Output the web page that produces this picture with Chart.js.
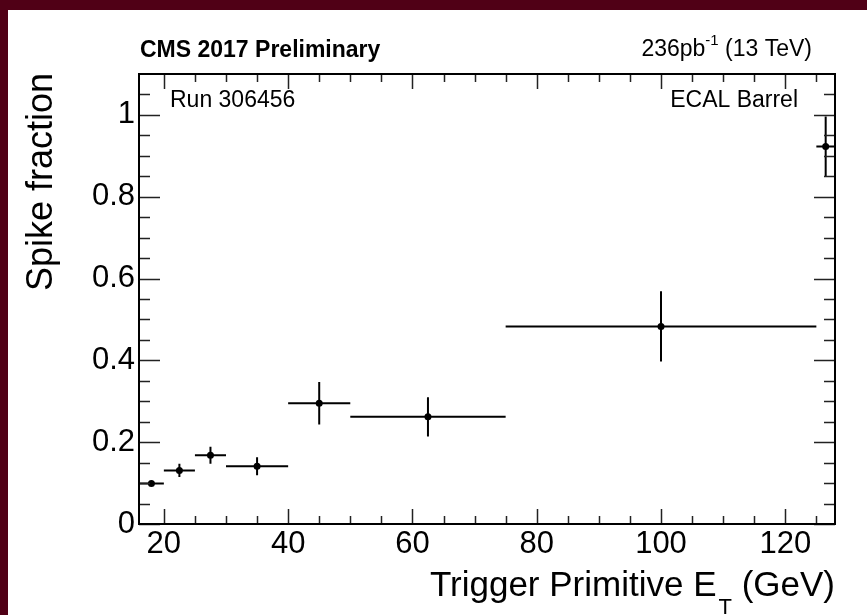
<!DOCTYPE html>
<html>
<head>
<meta charset="utf-8">
<script src="https://cdn.jsdelivr.net/npm/chart.js@4.4.1/dist/chart.umd.min.js"></script>
<style>
  html, body { margin: 0; padding: 0; background: #ffffff; }
  canvas { display: block; }
</style>
</head>
<body>
<canvas id="c" width="867" height="615"></canvas>
<script>
// ---- data ----
const binLow   = [16, 20, 25, 30, 40, 50, 75, 125];
const binHigh  = [20, 25, 30, 40, 50, 75, 125, 128];
const binCenter = [18, 22.5, 27.5, 35, 45, 62.5, 100, 126.5];
const spikeFraction = [0.099, 0.131, 0.168, 0.141, 0.295, 0.262, 0.483, 0.923];
const spikeFractionErr = [0.004, 0.016, 0.021, 0.022, 0.052, 0.048, 0.086, 0.073];

const xMajorTicks = [20, 40, 60, 80, 100, 120];
const xMinorTicks = [25, 30, 35, 45, 50, 55, 65, 70, 75, 85, 90, 95, 105, 110, 115, 125];
const yMajorTicks = [0, 0.2, 0.4, 0.6, 0.8, 1.0];
const yMinorTicks = [0.05, 0.1, 0.15, 0.25, 0.3, 0.35, 0.45, 0.5, 0.55, 0.65, 0.7, 0.75, 0.85, 0.9, 0.95, 1.05];
const xTickLabels = ['20', '40', '60', '80', '100', '120'];
const yTickLabels = ['0', '0.2', '0.4', '0.6', '0.8', '1'];

const FONT = '"Liberation Sans", Arial, Helvetica, sans-serif';

const decorPlugin = {
  id: 'decor',
  beforeDraw(chart) {
    const ctx = chart.ctx;
    ctx.save();
    ctx.fillStyle = '#ffffff';
    ctx.fillRect(0, 0, chart.width, chart.height);
    ctx.fillStyle = '#500016';
    ctx.fillRect(0, 0, chart.width, 10);
    ctx.fillRect(0, 0, 8, chart.height);
    ctx.restore();
  },
  beforeDatasetsDraw(chart) {
    const ctx = chart.ctx;
    const xs = chart.scales.x, ys = chart.scales.y;
    const a = chart.chartArea;
    ctx.save();
    ctx.beginPath();
    ctx.rect(a.left, a.top, a.right - a.left, a.bottom - a.top);
    ctx.clip();
    ctx.strokeStyle = '#000';
    ctx.lineWidth = 2;
    for (let i = 0; i < binCenter.length; i++) {
      const py = ys.getPixelForValue(spikeFraction[i]);
      const px = xs.getPixelForValue(binCenter[i]);
      ctx.beginPath();
      ctx.moveTo(xs.getPixelForValue(binLow[i]), py);
      ctx.lineTo(xs.getPixelForValue(binHigh[i]), py);
      ctx.moveTo(px, ys.getPixelForValue(spikeFraction[i] - spikeFractionErr[i]));
      ctx.lineTo(px, ys.getPixelForValue(spikeFraction[i] + spikeFractionErr[i]));
      ctx.stroke();
    }
    ctx.restore();
  },
  afterDraw(chart) {
    const ctx = chart.ctx;
    const xs = chart.scales.x, ys = chart.scales.y;
    const a = chart.chartArea;
    ctx.save();
    // ticks
    ctx.strokeStyle = '#222';
    ctx.lineWidth = 1.5;
    ctx.beginPath();
    const xt = (v, len) => {
      const p = Math.round(xs.getPixelForValue(v)) + 0.5;
      ctx.moveTo(p, a.bottom); ctx.lineTo(p, a.bottom - len);
      ctx.moveTo(p, a.top); ctx.lineTo(p, a.top + len);
    };
    const yt = (v, len) => {
      const p = Math.round(ys.getPixelForValue(v)) + 0.5;
      ctx.moveTo(a.left, p); ctx.lineTo(a.left + len, p);
      ctx.moveTo(a.right, p); ctx.lineTo(a.right - len, p);
    };
    xMajorTicks.forEach(v => xt(v, 15));
    xMinorTicks.forEach(v => xt(v, 8));
    yMajorTicks.forEach(v => yt(v, 21));
    yMinorTicks.forEach(v => yt(v, 11));
    ctx.stroke();
    // frame
    ctx.strokeStyle = '#000';
    ctx.lineWidth = 2;
    ctx.strokeRect(a.left, a.top, a.right - a.left, a.bottom - a.top);

    // texts
    ctx.fillStyle = '#000';
    ctx.textBaseline = 'alphabetic';
    ctx.textAlign = 'left';
    ctx.font = 'bold 23px ' + FONT;
    ctx.fillText('CMS 2017 Preliminary', a.left + 1, 57);

    ctx.font = '23px ' + FONT;
    ctx.fillText('Run 306456', a.left + 31, 107);
    ctx.textAlign = 'right';
    ctx.fillText('ECAL Barrel', a.right - 37, 107);

    // lumi label with superscript
    {
      const big = '23px ' + FONT, small = '15px ' + FONT;
      const t1 = '236pb', t2 = '-1', t3 = ' (13 TeV)';
      ctx.font = big; const w1 = ctx.measureText(t1).width, w3 = ctx.measureText(t3).width;
      ctx.font = small; const w2 = ctx.measureText(t2).width;
      let x = a.right - 23 - (w1 + w2 + w3);
      ctx.textAlign = 'left';
      ctx.font = big; ctx.fillText(t1, x, 56); x += w1;
      ctx.font = small; ctx.fillText(t2, x, 45); x += w2;
      ctx.font = big; ctx.fillText(t3, x, 56);
    }

    // x title with subscript
    {
      const big = '35px ' + FONT, small = '22px ' + FONT;
      const t1 = 'Trigger Primitive E', t2 = 'T', t3 = ' (GeV)';
      ctx.font = big; const w1 = ctx.measureText(t1).width, w3 = ctx.measureText(t3).width;
      ctx.font = small; const w2 = ctx.measureText(t2).width;
      let x = a.right - (w1 + w2 + w3 + 2);
      ctx.textAlign = 'left';
      ctx.font = big; ctx.fillText(t1, x, 596); x += w1;
      ctx.font = small; ctx.fillText(t2, x + 2, 614); x += w2 + 2;
      ctx.font = big; ctx.fillText(t3, x, 596);
    }

    // y title
    ctx.save();
    ctx.translate(52, a.top - 1);
    ctx.rotate(-Math.PI / 2);
    ctx.textAlign = 'right';
    ctx.font = '36px ' + FONT;
    ctx.fillText('Spike fraction', 0, 0);
    ctx.restore();

    ctx.restore();
  }
};

new Chart(document.getElementById('c'), {
  type: 'scatter',
  data: {
    datasets: [{
      data: binCenter.map((x, i) => ({ x: x, y: spikeFraction[i] })),
      pointRadius: 3.5,
      pointHoverRadius: 3.5,
      pointBorderWidth: 0,
      backgroundColor: '#000',
      borderColor: '#000'
    }]
  },
  options: {
    responsive: false,
    animation: false,
    events: [],
    layout: { padding: { top: 74, right: 32, left: 0, bottom: 0 } },
    plugins: { legend: { display: false }, tooltip: { enabled: false } },
    scales: {
      x: {
        type: 'linear',
        min: 16, max: 128,
        afterBuildTicks: s => { s.ticks = xMajorTicks.map(v => ({ value: v })); },
        afterFit: s => { s.height = 615 - 524; },
        grid: { display: false, drawTicks: false },
        border: { display: false },
        ticks: {
          autoSkip: false, maxRotation: 0, padding: 2,
          color: '#000',
          font: { family: FONT, size: 31 },
          callback: (v) => { const i = xMajorTicks.indexOf(v); return i >= 0 ? xTickLabels[i] : ''; }
        }
      },
      y: {
        type: 'linear',
        min: 0, max: 1.1,
        afterBuildTicks: s => { s.ticks = yMajorTicks.map(v => ({ value: v })); },
        afterFit: s => { s.width = 139; },
        grid: { display: false, drawTicks: false },
        border: { display: false },
        ticks: {
          autoSkip: false, padding: 4,
          color: '#000',
          font: { family: FONT, size: 31 },
          callback: (v) => { const i = yMajorTicks.findIndex(t => Math.abs(t - v) < 1e-9); return i >= 0 ? yTickLabels[i] : ''; }
        }
      }
    }
  },
  plugins: [decorPlugin]
});
</script>
</body>
</html>
